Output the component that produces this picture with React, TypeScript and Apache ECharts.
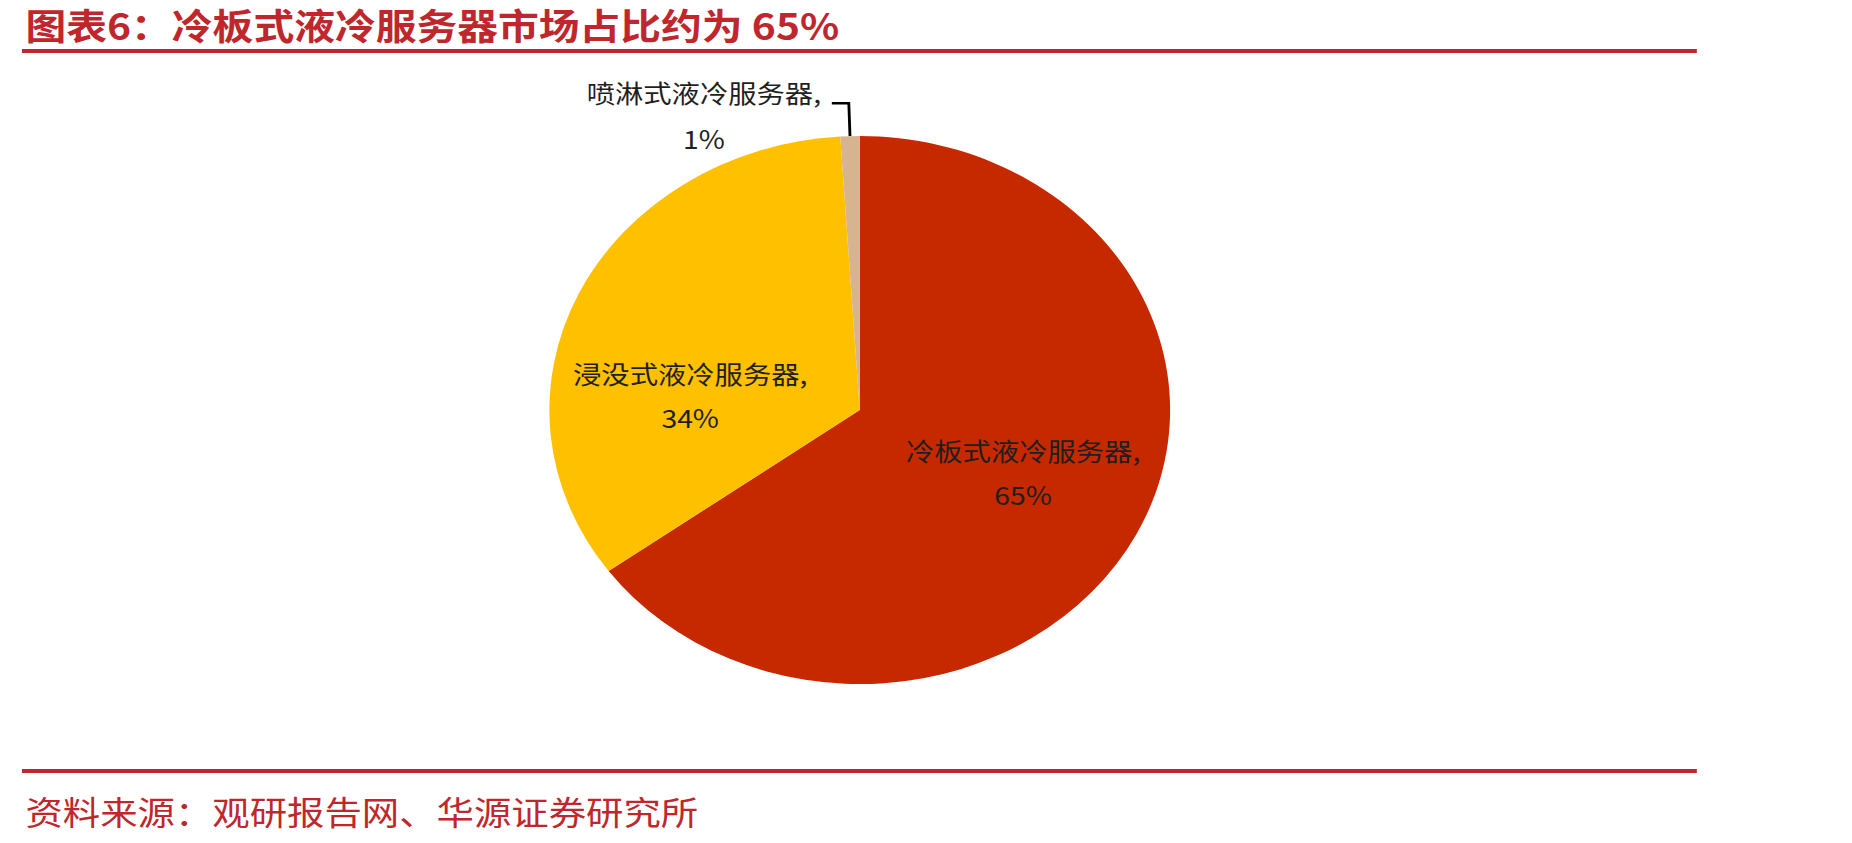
import React, { useEffect, useRef } from 'react';
import * as echarts from 'echarts';

// ---- data ----
const TITLE = '图表6：冷板式液冷服务器市场占比约为 65%';
const SOURCE = '资料来源：观研报告网、华源证券研究所';
const CATEGORIES = ['冷板式液冷服务器', '浸没式液冷服务器', '喷淋式液冷服务器'];
const SHARES = [65, 34, 1];
const COLORS = ['#C62800', '#FFC000', '#D5B48F'];

// ---- layout / style ----
const W = 1635;
const H = 843;
const STRETCH = 1852 / W; // the reference is stretched horizontally
const RED = '#C0272D';
const FONT = '"Noto Sans CJK SC", "Noto Sans", sans-serif';
const LABEL_COLOR = '#1f1f1f';

const richLabel = (p: any) => `{a|${p.name},}\n{a|${p.value}%}`;
const richStyle = (lineHeight: number) => ({
  a: { width: 212, align: 'center', fontSize: 25, lineHeight, color: LABEL_COLOR, fontFamily: FONT },
});

const LABEL_STYLES: any[] = [
  { padding: [0, 0, 2, 39], formatter: richLabel, rich: richStyle(44) },
  { padding: [90, 46, 0, 0], formatter: richLabel, rich: richStyle(44) },
  {
    position: 'outside',
    distanceToLabelLine: 7,
    padding: [24, 0, 0, 0],
    formatter: richLabel,
    rich: richStyle(46),
  },
];

const LABEL_LINES: any[] = [
  { show: false },
  { show: false },
  { show: true, length: 33, length2: 15, smooth: false, lineStyle: { color: '#000', width: 2.5 } },
];

export default function App() {
  const ref = useRef<HTMLDivElement>(null);

  useEffect(() => {
    if (!ref.current) return;
    const chart = echarts.init(ref.current, null, { renderer: 'svg', width: W, height: H });
    const option: any = {
      animation: false,
      backgroundColor: '#ffffff',
      graphic: [
        { type: 'rect', shape: { x: 19.4, y: 49, width: 1478.6, height: 4 }, style: { fill: RED } },
        { type: 'rect', shape: { x: 19.4, y: 769, width: 1478.6, height: 4 }, style: { fill: RED } },
        {
          type: 'text',
          x: 22.5,
          y: 24,
          style: { text: TITLE, fontSize: 36, fontWeight: 'bold', fontFamily: FONT, fill: RED, verticalAlign: 'middle' },
        },
        {
          type: 'text',
          x: 22.5,
          y: 810,
          style: { text: SOURCE, fontSize: 33, fontFamily: FONT, fill: RED, verticalAlign: 'middle' },
        },
      ],
      series: [
        {
          type: 'pie',
          center: [759, 410],
          radius: 274,
          startAngle: 90,
          clockwise: true,
          avoidLabelOverlap: false,
          silent: true,
          emphasis: { disabled: true },
          itemStyle: { borderWidth: 0 },
          label: {
            show: true,
            position: 'inside',
            color: LABEL_COLOR,
            fontSize: 25,
            fontFamily: FONT,
          },
          labelLine: { show: false },
          data: CATEGORIES.map((name, i) => ({
            name,
            value: SHARES[i],
            itemStyle: { color: COLORS[i] },
            label: LABEL_STYLES[i],
            labelLine: LABEL_LINES[i],
          })),
        },
      ],
    };
    chart.setOption(option);
    return () => chart.dispose();
  }, []);

  return (
    <div
      ref={ref}
      style={{
        position: 'fixed',
        left: 0,
        top: 0,
        width: W,
        height: H,
        transform: `scaleX(${STRETCH})`,
        transformOrigin: '0 0',
        background: '#fff',
      }}
    />
  );
}
